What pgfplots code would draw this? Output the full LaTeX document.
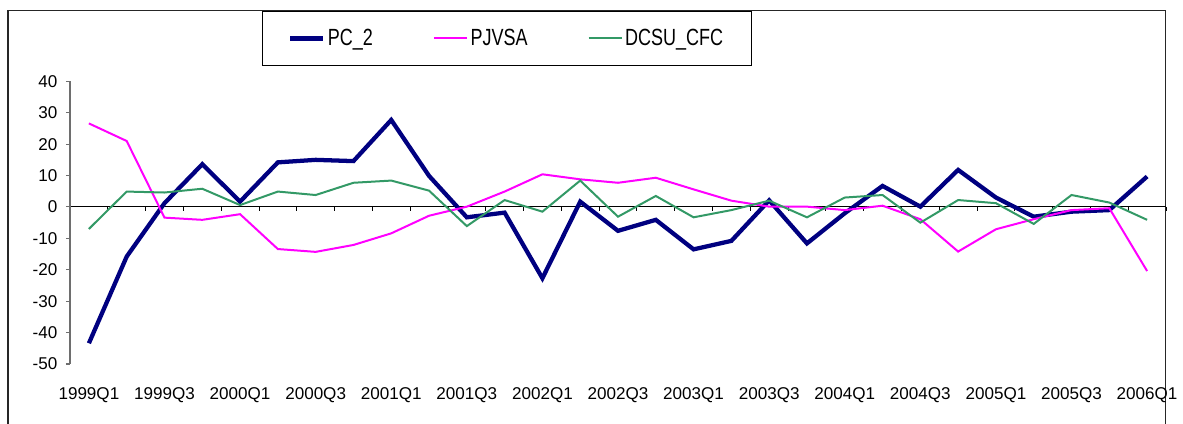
\documentclass[border=0pt]{standalone}
\usepackage{graphicx}
\usepackage{pgfplots}
\usepackage{pgfplotstable}
\pgfplotsset{compat=1.18}
\usepackage{fontspec}
\setmainfont{Liberation Sans}
\definecolor{pcnavy}{RGB}{0,0,128}
\definecolor{pjmag}{RGB}{255,0,255}
\definecolor{dcgreen}{RGB}{51,153,102}
\definecolor{axgray}{RGB}{110,110,110}

\pgfplotstableread{
i pc pj dc
0 -43.4 26.6 -7.0
1 -15.8 21.0 4.9
2 1.2 -3.4 4.6
3 13.6 -4.1 5.8
4 1.7 -2.3 0.6
5 14.2 -13.4 4.9
6 15.0 -14.3 3.8
7 14.6 -12.1 7.7
8 27.7 -8.4 8.4
9 9.9 -2.8 5.2
10 -3.3 0.1 -6.1
11 -1.8 4.9 2.2
12 -22.7 10.4 -1.5
13 1.7 8.8 8.4
14 -7.6 7.7 -3.1
15 -4.1 9.3 3.5
16 -13.5 5.6 -3.3
17 -10.8 2.0 -1.0
18 2.1 0.1 2.0
19 -11.6 0.1 -3.3
20 -2.0 -1.0 3.0
21 6.7 0.4 3.8
22 0.1 -3.9 -5.0
23 11.8 -14.2 2.2
24 3.0 -7.1 1.2
25 -3.1 -3.9 -5.4
26 -1.5 -1.0 3.8
27 -1.0 -0.4 1.4
28 9.7 -20.4 -4.1
}\datatable

\begin{document}
\begin{tikzpicture}
\useasboundingbox (0pt,0pt) rectangle (887.25pt,318pt);
\draw[line width=1pt, black!85] (6pt,-10pt) -- (6pt,310pt) -- (874.3pt,310pt) -- (874.3pt,-10pt);

% zero line with category boundary ticks
\begin{axis}[
  at={(52.5pt,45pt)}, anchor=south west,
  scale only axis, width=822pt, height=212pt,
  xmin=-0.5, xmax=28.5, ymin=-50, ymax=40,
  axis x line*=middle, axis y line=none,
  x axis line style={black, line width=0.8pt},
  xtick={-0.5,0.5,...,28.5}, xticklabels={},
  tick align=outside, major tick length=3pt,
  xtick style={black, line width=0.6pt},
  ytick=\empty,
]
\end{axis}

\begin{axis}[
  at={(52.5pt,45pt)}, anchor=south west,
  scale only axis, width=822pt, height=212pt,
  xmin=-0.5, xmax=28.5, ymin=-50, ymax=40,
  axis y line*=left, axis x line*=bottom,
  x axis line style={draw=none},
  y axis line style={axgray, line width=0.8pt},
  ytick={-50,-40,...,40},
  yticklabels={-50,-40,-30,-20,-10,0,10,20,30,40},
  ytick style={axgray, line width=0.8pt},
  tick align=outside, major tick length=3pt,
  xtick={0,2,...,28},
  xticklabels={1999Q1,1999Q3,2000Q1,2000Q3,2001Q1,2001Q3,2002Q1,2002Q3,2003Q1,2003Q3,2004Q1,2004Q3,2005Q1,2005Q3,2006Q1},
  xtick style={draw=none},
  xticklabel style={anchor=center, yshift=-20pt},
  ticklabel style={font=\fontsize{12.8}{15}\selectfont},
  yticklabel style={xshift=-3pt},
  legend columns=3,
  legend style={at={(0.1752,1.2497)}, anchor=north west, draw=black, line width=0.8pt,
    font=\fontsize{13.5}{15}\selectfont, inner xsep=19pt, inner ysep=11.5pt,
    /tikz/every even column/.append style={column sep=43pt}},
  legend image code/.code={\draw[#1] (0pt,0pt) -- (24.75pt,0pt);},
]
\addplot[pcnavy, line width=3.2pt] table[x=i, y=pc] {\datatable};
\addlegendentry{\scalebox{1}[1.3]{PC\_2}}
\addplot[pjmag, line width=1.5pt] table[x=i, y=pj] {\datatable};
\addlegendentry{\scalebox{1}[1.3]{PJVSA}}
\addplot[dcgreen, line width=1.5pt] table[x=i, y=dc] {\datatable};
\addlegendentry{\scalebox{1}[1.3]{DCSU\_CFC}}
\end{axis}
\end{tikzpicture}
\end{document}
